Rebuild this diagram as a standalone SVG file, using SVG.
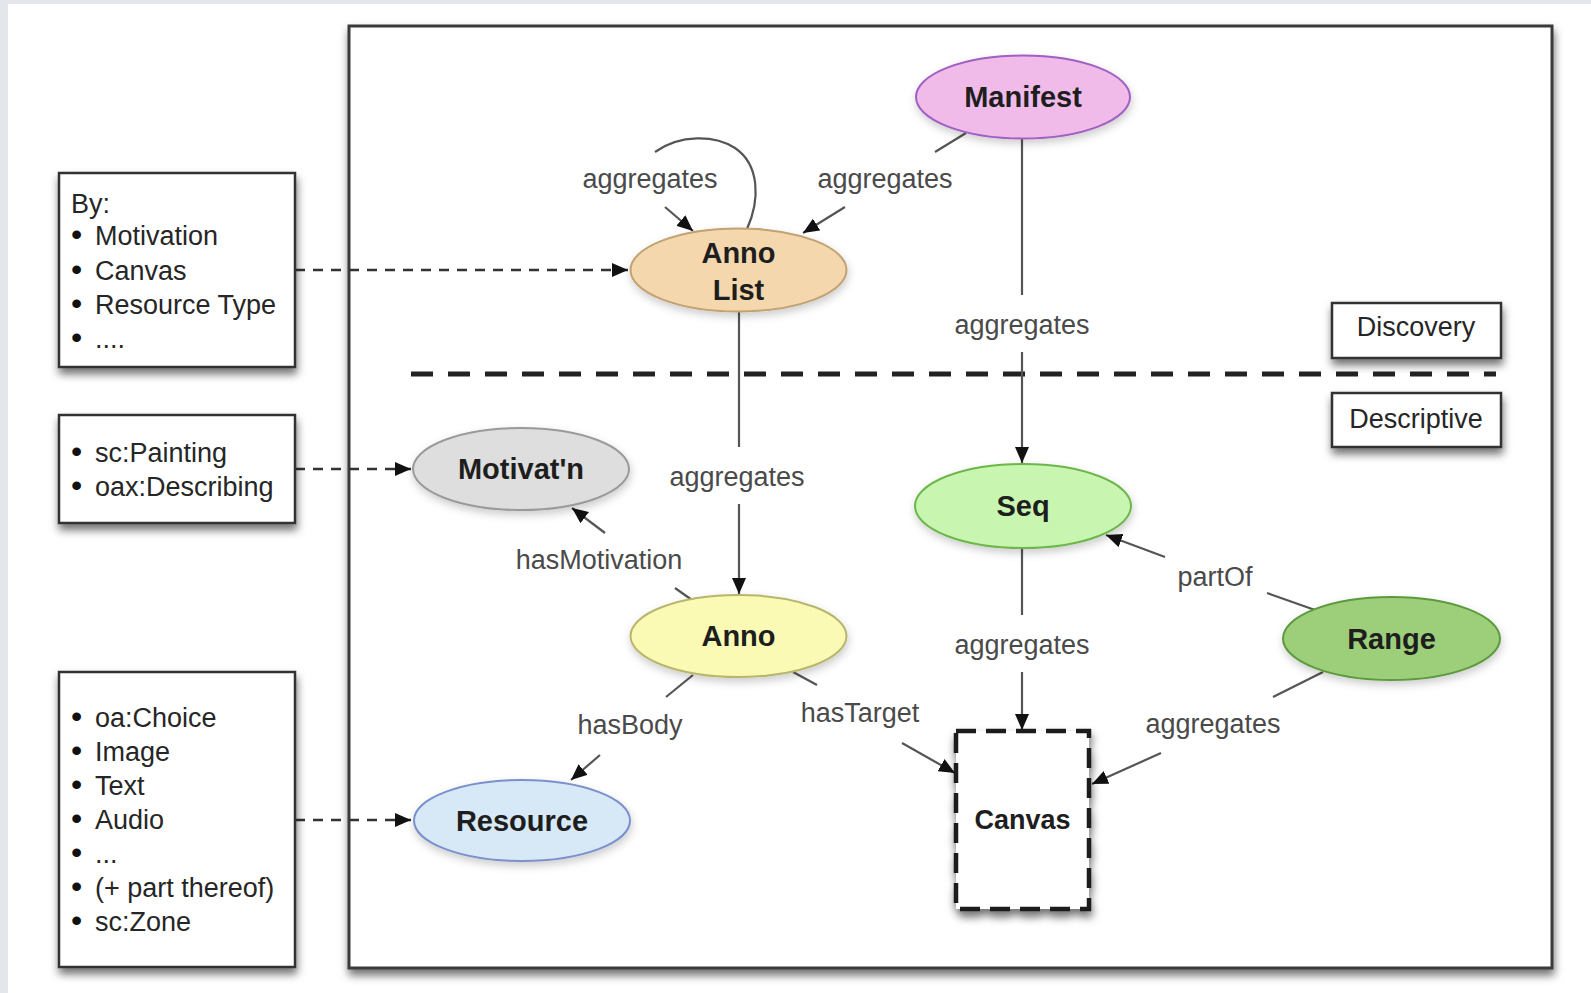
<svg xmlns="http://www.w3.org/2000/svg" width="1591" height="993" viewBox="0 0 1591 993">
<defs>
<style>
.box{fill:#fff;stroke:#333;stroke-width:2.5}
.t{font-family:"Liberation Sans",Arial,sans-serif;font-size:27px;fill:#262626}
.b{font-size:32px;fill:#111}
.lbl{font-family:"Liberation Sans",Arial,sans-serif;font-size:27px;fill:#4a4a4a;text-anchor:middle}
.nl{font-family:"Liberation Sans",Arial,sans-serif;font-size:29px;font-weight:bold;fill:#1e1e1e;text-anchor:middle}
.e{stroke-width:2}
.ln{stroke:#555;stroke-width:2.2;fill:none}
.dsh{stroke:#333;stroke-width:2.5;stroke-dasharray:10 8;fill:none}
</style>
<marker id="ah" markerUnits="userSpaceOnUse" markerWidth="18" markerHeight="14" refX="16" refY="7" orient="auto">
<path d="M0,0 L16,7 L0,14 z" fill="#111"/>
</marker>
<filter id="sh" x="-20%" y="-20%" width="140%" height="150%">
<feDropShadow dx="1" dy="6" stdDeviation="4" flood-color="#000" flood-opacity="0.55"/>
</filter>
<filter id="esh" x="-20%" y="-20%" width="140%" height="150%">
<feDropShadow dx="1" dy="4" stdDeviation="4" flood-color="#000" flood-opacity="0.2"/>
</filter>
</defs>
<rect x="0" y="0" width="1591" height="993" fill="#e3e6ea"/>
<rect x="8" y="4" width="1583" height="989" fill="#fff"/>

<g id="frame">
<rect x="349" y="26" width="1203" height="942" fill="#fff" stroke="#3a3a3a" stroke-width="3" filter="url(#sh)"/>
<line x1="411" y1="374" x2="1496" y2="374" stroke="#222" stroke-width="5" stroke-dasharray="22 15"/>
</g>

<g id="connectors">
<path class="ln" d="M747,229 C760,200 760,165 735,148 C715,135 680,134 655,152"/>
<line class="ln" x1="665" y1="207" x2="693" y2="231" marker-end="url(#ah)"/>
<line class="ln" x1="966" y1="133" x2="935" y2="152"/>
<line class="ln" x1="845" y1="207" x2="803" y2="233" marker-end="url(#ah)"/>
<line class="ln" x1="1022" y1="138" x2="1022" y2="295"/>
<line class="ln" x1="1022" y1="352" x2="1022" y2="463" marker-end="url(#ah)"/>
<line class="ln" x1="739" y1="312" x2="739" y2="447"/>
<line class="ln" x1="739" y1="504" x2="739" y2="594" marker-end="url(#ah)"/>
<line class="ln" x1="692" y1="600" x2="675" y2="588"/>
<line class="ln" x1="605" y1="533" x2="572" y2="508" marker-end="url(#ah)"/>
<line class="ln" x1="693" y1="675" x2="666" y2="697"/>
<line class="ln" x1="600" y1="755" x2="571" y2="780" marker-end="url(#ah)"/>
<line class="ln" x1="793" y1="672" x2="817" y2="685"/>
<line class="ln" x1="902" y1="743" x2="955" y2="773" marker-end="url(#ah)"/>
<line class="ln" x1="1022" y1="548" x2="1022" y2="615"/>
<line class="ln" x1="1022" y1="672" x2="1022" y2="730" marker-end="url(#ah)"/>
<line class="ln" x1="1315" y1="610" x2="1267" y2="593"/>
<line class="ln" x1="1165" y1="557" x2="1106" y2="535" marker-end="url(#ah)"/>
<line class="ln" x1="1323" y1="672" x2="1273" y2="697"/>
<line class="ln" x1="1161" y1="753" x2="1092" y2="784" marker-end="url(#ah)"/>
<line class="dsh" x1="295" y1="270" x2="628" y2="270" marker-end="url(#ah)"/>
<line class="dsh" x1="295" y1="469" x2="411" y2="469" marker-end="url(#ah)"/>
<line class="dsh" x1="295" y1="820" x2="411" y2="820" marker-end="url(#ah)"/>
<text class="lbl" x="650" y="188">aggregates</text>
<text class="lbl" x="885" y="188">aggregates</text>
<text class="lbl" x="1022" y="334">aggregates</text>
<text class="lbl" x="737" y="486">aggregates</text>
<text class="lbl" x="599" y="569">hasMotivation</text>
<text class="lbl" x="630" y="734">hasBody</text>
<text class="lbl" x="860" y="722">hasTarget</text>
<text class="lbl" x="1022" y="654">aggregates</text>
<text class="lbl" x="1215" y="586">partOf</text>
<text class="lbl" x="1213" y="733">aggregates</text>
</g>

<g id="box-by">
<rect class="box" x="59" y="173" width="236" height="194" filter="url(#sh)"/>
<text class="t" x="71" y="213">By:</text>
<text class="t" x="71" y="245"><tspan class="b">•</tspan><tspan x="95">Motivation</tspan></text>
<text class="t" x="71" y="280"><tspan class="b">•</tspan><tspan x="95">Canvas</tspan></text>
<text class="t" x="71" y="314"><tspan class="b">•</tspan><tspan x="95">Resource Type</tspan></text>
<text class="t" x="71" y="348"><tspan class="b">•</tspan><tspan x="95">....</tspan></text>
</g>
<g id="box-motivations">
<rect class="box" x="59" y="415" width="236" height="108" filter="url(#sh)"/>
<text class="t" x="71" y="462"><tspan class="b">•</tspan><tspan x="95">sc:Painting</tspan></text>
<text class="t" x="71" y="496"><tspan class="b">•</tspan><tspan x="95">oax:Describing</tspan></text>
</g>
<g id="box-resources">
<rect class="box" x="59" y="672" width="236" height="295" filter="url(#sh)"/>
<text class="t" x="71" y="727"><tspan class="b">•</tspan><tspan x="95">oa:Choice</tspan></text>
<text class="t" x="71" y="761"><tspan class="b">•</tspan><tspan x="95">Image</tspan></text>
<text class="t" x="71" y="795"><tspan class="b">•</tspan><tspan x="95">Text</tspan></text>
<text class="t" x="71" y="829"><tspan class="b">•</tspan><tspan x="95">Audio</tspan></text>
<text class="t" x="71" y="863"><tspan class="b">•</tspan><tspan x="95">...</tspan></text>
<text class="t" x="71" y="897"><tspan class="b">•</tspan><tspan x="95">(+ part thereof)</tspan></text>
<text class="t" x="71" y="931"><tspan class="b">•</tspan><tspan x="95">sc:Zone</tspan></text>
</g>

<g id="discovery">
<rect class="box" x="1332" y="303" width="169" height="55" filter="url(#sh)"/>
<text class="t" x="1416" y="336" text-anchor="middle">Discovery</text>
</g>
<g id="descriptive">
<rect class="box" x="1332" y="393" width="169" height="54" filter="url(#sh)"/>
<text class="t" x="1416" y="428" text-anchor="middle">Descriptive</text>
</g>

<g id="manifest">
<ellipse class="e" cx="1023" cy="97" rx="107" ry="41.5" fill="#f1bbe9" stroke="#a15fc2" filter="url(#esh)"/>
<text class="nl" x="1023" y="107">Manifest</text>
</g>
<g id="annolist">
<ellipse class="e" cx="738.5" cy="270" rx="108" ry="41.5" fill="#f5d7ad" stroke="#c2a272" filter="url(#esh)"/>
<text class="nl" x="738.5" y="263">Anno</text>
<text class="nl" x="738.5" y="300">List</text>
</g>
<g id="motivation">
<ellipse class="e" cx="521" cy="469" rx="108" ry="41" fill="#dedede" stroke="#9a9a9a" filter="url(#esh)"/>
<text class="nl" x="521" y="479">Motivat'n</text>
</g>
<g id="seq">
<ellipse class="e" cx="1023" cy="506" rx="108" ry="42" fill="#c8f6b1" stroke="#6db64c" filter="url(#esh)"/>
<text class="nl" x="1023" y="516">Seq</text>
</g>
<g id="anno">
<ellipse class="e" cx="738.5" cy="636" rx="108" ry="41" fill="#fafab5" stroke="#b7b66c" filter="url(#esh)"/>
<text class="nl" x="738.5" y="646">Anno</text>
</g>
<g id="range">
<ellipse class="e" cx="1391.5" cy="638.5" rx="108.5" ry="41.5" fill="#9dcf7a" stroke="#5d9a3e" filter="url(#esh)"/>
<text class="nl" x="1391.5" y="649">Range</text>
</g>
<g id="resource">
<ellipse class="e" cx="522" cy="820.5" rx="108" ry="40.5" fill="#d7e9f7" stroke="#7b90cc" filter="url(#esh)"/>
<text class="nl" x="522" y="831">Resource</text>
</g>
<g id="canvas">
<rect x="956" y="731" width="133" height="178" fill="#fff" stroke="#1a1a1a" stroke-width="4.5" stroke-dasharray="20 10" filter="url(#sh)"/>
<text class="nl" x="1022.5" y="829" style="font-size:27px">Canvas</text>
</g>
</svg>
